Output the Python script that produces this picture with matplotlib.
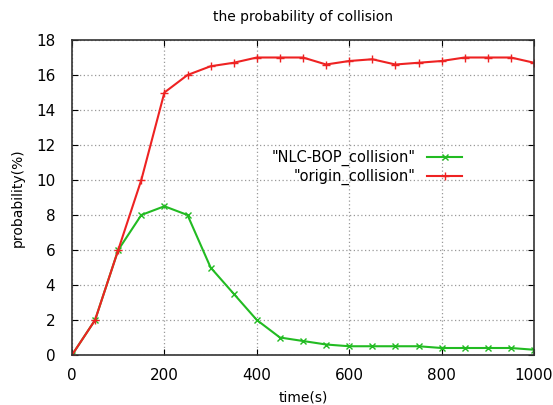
import numpy as np
import matplotlib
matplotlib.use("Agg")
import matplotlib.pyplot as plt

# time axis (s)
time_s = [0, 50, 100, 150, 200, 250, 300, 350, 400, 450, 500,
          550, 600, 650, 700, 750, 800, 850, 900, 950, 1000]
nlc_bop = [0, 2, 6, 8, 8.5, 8, 5, 3.5, 2, 1, 0.8,
           0.6, 0.5, 0.5, 0.5, 0.5, 0.4, 0.4, 0.4, 0.4, 0.3]
origin = [0, 2, 6, 10, 15, 16, 16.5, 16.7, 17, 17, 17,
          16.6, 16.8, 16.9, 16.6, 16.7, 16.8, 17, 17, 17, 16.7]

x_ticks = [0, 200, 400, 600, 800, 1000]
y_ticks = [0, 2, 4, 6, 8, 10, 12, 14, 16, 18]

plt.rcParams['font.family'] = 'DejaVu Sans'
fig = plt.figure(figsize=(5.53, 4.05), dpi=100)
ax = fig.add_axes([72 / 553, 50 / 405, 462 / 553, 315 / 405])

ax.plot(time_s, nlc_bop, color='#22bb22', lw=1.5, marker='x', ms=5,
        label='"NLC-BOP_collision"')
ax.plot(time_s, origin, color='#ee2222', lw=1.5, marker='+', ms=6,
        label='"origin_collision"')

ax.set_xlim(0, 1000)
ax.set_ylim(0, 18)
ax.set_xticks(x_ticks)
ax.set_yticks(y_ticks)
ax.tick_params(direction='in', top=True, right=True, labelsize=11, length=4)
ax.tick_params(axis='x', pad=9)
ax.tick_params(axis='y', pad=12)
ax.grid(True, color='#999999', linestyle=(0, (1, 2)), linewidth=0.9)
for s in ax.spines.values():
    s.set_linewidth(1.2)
    s.set_color('#333333')

ax.set_title('the probability of collision', fontsize=10, pad=14)
ax.set_xlabel('time(s)', fontsize=10, labelpad=6)
ax.set_ylabel('probability(%)', fontsize=10, labelpad=8)

ax.legend(loc='center right', bbox_to_anchor=(0.86, 0.595), frameon=False,
          markerfirst=False, fontsize=10.5, handlelength=2.4,
          labelspacing=0.2, borderpad=0)

fig.savefig('out.png', dpi=100)
